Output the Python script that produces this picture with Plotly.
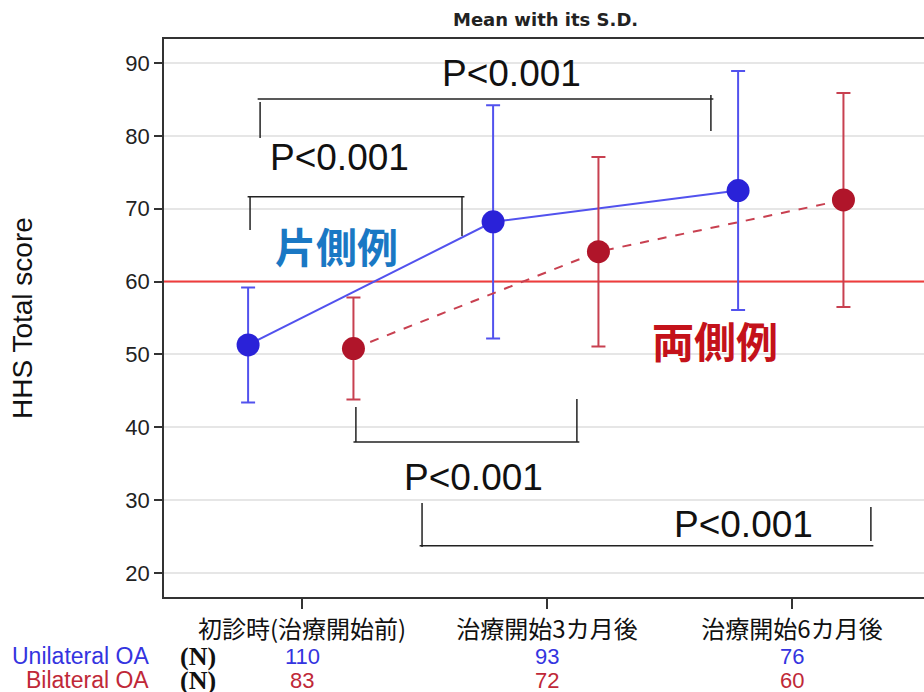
import plotly.graph_objects as go

# ---- data ----
categories = ["初診時(治療開始前)", "治療開始3カ月後", "治療開始6カ月後"]
uni_mean = [51.3, 68.2, 72.5]
uni_sd = [7.9, 16.0, 16.4]
bi_mean = [50.8, 64.1, 71.2]
bi_sd = [7.0, 13.0, 14.7]
uni_n = [110, 93, 76]
bi_n = [83, 72, 60]
reference_line = 60

# ---- styling ----
cat_x = list(range(len(categories)))
uni_off, bi_off = -0.22, 0.21
BLUE_M, BLUE_L = "#2a22d8", "#5252ee"
RED_M, RED_L = "#b0152a", "#c84050"
LAT = "Liberation Sans, Arial, sans-serif"
CJK = "Noto Sans CJK JP, sans-serif"

# plot area spans page x 164..924, y 39..597 (body margin removed)
PL, PT, PB, PR = 164, 39, 597, 924
XMIN, XMAX = (PL - 302) / 245, (PR - 302) / 245
def px(xp):
    return (xp - PL) / (PR - PL)
def py(yp):
    return (PB - yp) / (PB - PT)

fig = go.Figure()

# reference line (drawn first: above grid, below the series)
fig.add_trace(go.Scatter(x=[XMIN, XMAX], y=[reference_line, reference_line], mode="lines",
                         line=dict(color="#f03c3c", width=2), hoverinfo="skip",
                         showlegend=False))

fig.add_trace(go.Scatter(
    x=[c + uni_off for c in cat_x], y=uni_mean, mode="lines+markers",
    line=dict(color=BLUE_L, width=2),
    marker=dict(color=BLUE_M, size=23),
    error_y=dict(type="data", array=uni_sd, color=BLUE_L, thickness=2, width=7),
    showlegend=False))
fig.add_trace(go.Scatter(
    x=[c + bi_off for c in cat_x], y=bi_mean, mode="lines+markers",
    line=dict(color=RED_L, width=2, dash="dash"),
    marker=dict(color=RED_M, size=23),
    error_y=dict(type="data", array=bi_sd, color=RED_L, thickness=2, width=7),
    showlegend=False))

# significance brackets
brackets = [
    (-0.171, 1.669, 85.06, 79.7, 80.67, 0.857, 88.6, 84.65, 85.6),
    (-0.212, 0.653, 71.65, 67.08, 66.25, 0.155, 77.1, 71.65, 71.65),
    (0.220, 1.122, 37.98, 42.78, 43.88, 0.698, 33.04, 37.98, 37.98),
    (0.490, 2.322, 23.75, 29.6, 29.06, 1.80, 26.6, 23.57, 24.4),
]
BK = dict(color="#222222", width=1.5)
for x0, x1, yb, yl, yr, tx, ty, yl2, yr2 in brackets:
    fig.add_shape(type="line", x0=x0 - 0.01, x1=x1 + 0.01, y0=yb, y1=yb, line=BK)
    fig.add_shape(type="line", x0=x0, x1=x0, y0=yl2, y1=yl, line=BK)
    fig.add_shape(type="line", x0=x1, x1=x1, y0=yr2, y1=yr, line=BK)
    fig.add_annotation(x=tx, y=ty, text="P<0.001", showarrow=False,
                       xanchor="center", yanchor="middle",
                       font=dict(family=LAT, size=37, color="#111111"))

fig.add_annotation(x=0.139, y=65.0, text="<b>片側例</b>", showarrow=False,
                   xanchor="center", yanchor="middle",
                   font=dict(family=CJK, size=41, color="#1a78c4"))
fig.add_annotation(x=1.686, y=52.0, text="<b>両側例</b>", showarrow=False,
                   xanchor="center", yanchor="middle",
                   font=dict(family=CJK, size=42, color="#c4121a"))

# title
fig.add_annotation(x=px(545), xref="paper", y=py(19), yref="paper",
                   xanchor="center", yanchor="middle",
                   text="<b>Mean with its S.D.</b>", showarrow=False,
                   font=dict(family="DejaVu Sans, sans-serif", size=18, color="#222222"))

# N rows
rows = [("Unilateral OA", uni_n, "#3434e0", 656), ("Bilateral OA", bi_n, "#c02838", 680)]
for label, ns, col, ypix in rows:
    fig.add_annotation(x=px(151), xref="paper", y=py(ypix), yref="paper",
                       xanchor="right", yanchor="middle", text=label, showarrow=False,
                       font=dict(family=LAT, size=23, color=col))
    fig.add_annotation(x=px(198), xref="paper", y=py(ypix), yref="paper",
                       xanchor="center", yanchor="middle",
                       text="<b>(N)</b>", showarrow=False,
                       font=dict(family="Liberation Serif, serif", size=26, color="#111111"))
    for c, n in zip(cat_x, ns):
        fig.add_annotation(x=c, y=py(ypix), yref="paper", text=str(n), showarrow=False,
                           xanchor="center", yanchor="middle",
                           font=dict(family=LAT, size=22, color=col))

# y title
fig.add_annotation(x=px(22), xref="paper", y=py(318), yref="paper",
                   xanchor="center", yanchor="middle",
                   text="HHS Total score", textangle=-90, showarrow=False,
                   font=dict(family=LAT, size=28, color="#111111"))

fig.update_layout(
    width=924, height=692,
    margin=dict(l=PL, r=924 - PR, t=PT, b=692 - PB),
    paper_bgcolor="white", plot_bgcolor="white",
    xaxis=dict(range=[XMIN, XMAX], tickvals=cat_x, ticktext=categories,
               showgrid=False, zeroline=False, showline=True, linecolor="#333333",
               linewidth=1.5, mirror=True, ticks="outside", ticklen=10,
               tickcolor="#333333", tickwidth=1.5,
               tickfont=dict(family=CJK, size=24, color="#111111")),
    yaxis=dict(range=[16.7, 93.3], tickvals=[20, 30, 40, 50, 60, 70, 80, 90],
               showgrid=True, gridcolor="#e6e6e6", gridwidth=2, zeroline=False,
               showline=True, linecolor="#333333", linewidth=1.5,
               ticks="outside", ticklen=8, tickcolor="#333333", tickwidth=1.5,
               tickfont=dict(family=LAT, size=22, color="#222222")),
)
fig.write_html("out.html", config={"displayModeBar": False},
               post_script="document.body.style.margin='0';")
